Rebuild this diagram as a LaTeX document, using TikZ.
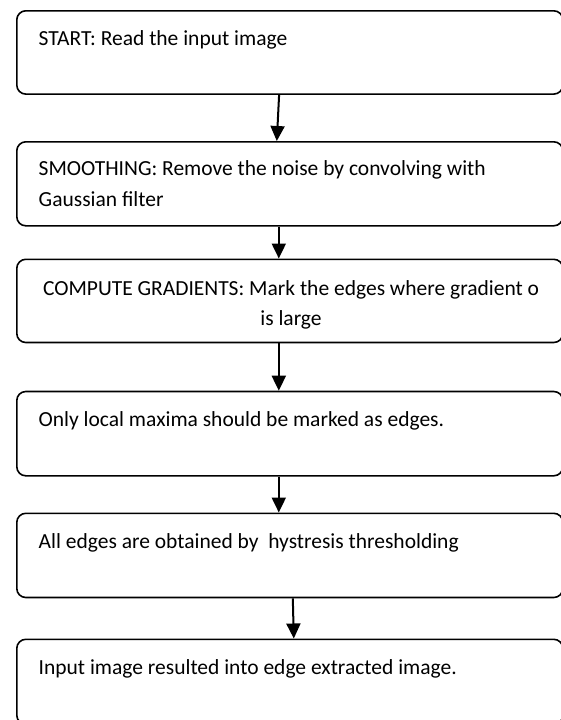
\documentclass[tikz,border=0pt]{standalone}
\usepackage{fontspec}
\setmainfont{Carlito}
\usetikzlibrary{arrows.meta}
\begin{document}
\begin{tikzpicture}[x=1pt,y=-1pt,
  stepbox/.style={draw,line width=1.6pt,rounded corners=9pt,minimum width=546pt,
    inner sep=0pt,anchor=north west},
  steptext/.style={inner sep=0pt,anchor=base west,align=left,
    font=\fontsize{21.5}{31}\selectfont},
  flow/.style={line width=2pt,-{Triangle[width=14pt,length=15pt]}}]
\fill[white] (0,0) rectangle (560,720);
\useasboundingbox (0,0) rectangle (560,720);

% process boxes
\node[stepbox,minimum height=83.3pt] (b1) at (16,10) {};
\node[stepbox,minimum height=84pt]   (b2) at (16,141) {};
\node[stepbox,minimum height=83.2pt] (b3) at (16,258.5) {};
\node[stepbox,minimum height=84.3pt] (b4) at (16,390.7) {};
\node[stepbox,minimum height=84.2pt] (b5) at (16,512.5) {};
\node[stepbox,minimum height=85pt]   (b6) at (16,638.5) {};

% step descriptions (multi-line nodes are placed by their last baseline)
\node[steptext] (t1) at (38.5,45) {START: Read the input image};
\node[steptext] (t2) at (38.5,206) {SMOOTHING: Remove the noise by convolving with\\Gaussian\ filter};
\node[steptext,anchor=base,align=center,font=\fontsize{21.5}{30}\selectfont] (t3) at (291,325)
  {COMPUTE GRADIENTS: Mark the edges where gradient o\\is large};
\node[steptext] (t4) at (38.5,426) {Only local maxima should be marked as edges.};
\node[steptext] (t5) at (38.5,548.3) {All edges are obtained by\ \ hystresis thresholding};
\node[steptext] (t6) at (38.5,674) {Input image resulted into edge extracted image.};

% flow arrows
\draw[flow] ([xshift=-10.7pt]b1.south) -- ([xshift=-13pt]b2.north);
\draw[flow] ([xshift=-11pt]b2.south) -- ([xshift=-11pt]b3.north);
\draw[flow] ([xshift=-11pt]b3.south) -- ([xshift=-11pt]b4.north);
\draw[flow] ([xshift=-11pt]b4.south) -- ([xshift=-11pt]b5.north);
\draw[flow] ([xshift=3pt]b5.south) -- ([xshift=4pt]b6.north);
\end{tikzpicture}
\end{document}
